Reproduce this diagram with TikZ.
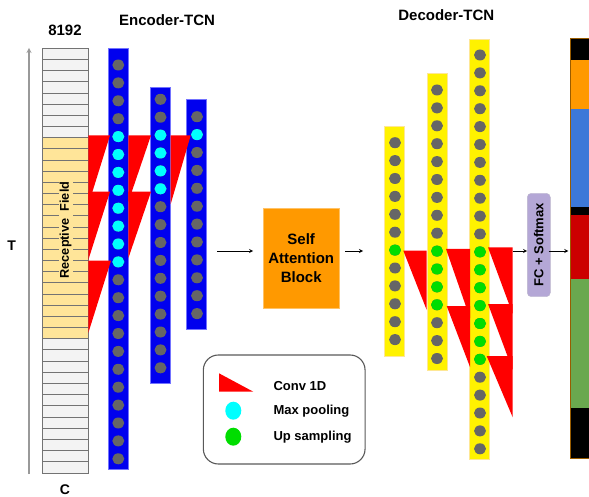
\documentclass[tikz,border=0pt]{standalone}
\usepackage{fontspec}
\setmainfont{Liberation Sans}
\usetikzlibrary{positioning,calc,arrows.meta}
\tikzset{>=stealth}

\definecolor{encblue}{HTML}{0000EE}
\definecolor{dotgrey}{HTML}{666666}
\definecolor{cellgrey}{HTML}{F3F3F3}
\definecolor{rfield}{HTML}{FFE599}
\definecolor{sabor}{HTML}{FF9900}
\definecolor{fcpurple}{HTML}{B4A7D6}
\definecolor{outblue}{HTML}{3C78D8}
\definecolor{outred}{HTML}{CC0000}
\definecolor{outgreen}{HTML}{6AA84F}
\definecolor{upgreen}{HTML}{00DD00}
\definecolor{poolcyan}{HTML}{00FFFF}
\definecolor{convred}{HTML}{FF0000}

\tikzset{
  tcncol/.style={anchor=north,minimum width=20,inner sep=0pt,line width=0.6pt},
  enccol/.style={tcncol,fill=encblue,draw=blue!55},
  deccol/.style={tcncol,fill=yellow,draw=yellow!60!orange!40},
  hdr/.style={font=\bfseries\fontsize{15}{18}\selectfont},
  legtxt/.style={anchor=west,font=\bfseries\fontsize{13}{15}\selectfont},
}
% one column of dots: x, first y, last index, from, to, colour
\newcommand{\dotcol}[6]{%
  \foreach \i in {0,...,#3} {\fill[dotgrey] (#1,#2+17.9*\i) ellipse[x radius=6,y radius=5.5];}
  \foreach \i in {#4,...,#5} {\fill[#6] (#1,#2+17.9*\i) ellipse[x radius=6,y radius=5.5];}
}

\begin{document}
\begin{tikzpicture}[x=1pt,y=-1pt]
\useasboundingbox (0,0) rectangle (589,497);
\coordinate (lvl) at (0,251);
% input
\coordinate (tbot) at (29,474);
\coordinate (ttop) at (29,48);
\draw[->,gray!80,line width=1.2pt] (tbot) -- (ttop);
\node[font=\bfseries\fontsize{14}{16}\selectfont] (tl) at (11.7,245.7) {T};
\node[anchor=north,minimum width=46,minimum height=424.4,inner sep=0pt,fill=cellgrey] (inp) at (65.3,48.3) {};
\fill[rfield] (42.3,137.7) rectangle (88.3,338.7);
\foreach \r in {1,...,37} \draw[gray!90!black,line width=0.8pt] (42.3,48.3+11.17*\r) -- (88.3,48.3+11.17*\r);
\draw[gray!90!black,line width=0.8pt] (inp.north west) rectangle (inp.south east);
\node[rotate=90,fill=rfield,inner sep=1.2pt,font=\bfseries\fontsize{12.7}{14}\selectfont] (rf) at (65.7,230) {Receptive\ \ Field};
\node[hdr] (len) at (65,30) {8192};
\node[font=\bfseries\fontsize{14}{16}\selectfont] (cl) at (65,490) {C};

% encoder
\node[hdr] (enct) at (167,20.5) {Encoder-TCN};
\node[enccol,minimum height=420.7] (enc1) at (118.3,48.3) {};
\node[enccol,minimum height=296] (enc2) at (160.7,87.3) {};
\node[enccol,minimum height=229.7] (enc3) at (196.7,99) {};
\fill[convred] (88.3,135.3) -- (110,135.3) -- (88.3,205) -- cycle;
\fill[convred] (88.3,191.7) -- (110,191.7) -- (88.3,260) -- cycle;
\fill[convred] (88.3,260.7) -- (111,260.7) -- (88.3,333) -- cycle;
\fill[convred] (128.3,135.3) -- (151,135.3) -- (128.3,202) -- cycle;
\fill[convred] (128.3,191.7) -- (151,191.7) -- (128.3,258.3) -- cycle;
\fill[convred] (170.7,135.3) -- (190.7,135.3) -- (170.7,204) -- cycle;
\dotcol{118.3}{65}{22}{4}{11}{poolcyan}
\dotcol{160.5}{99.3}{15}{2}{5}{poolcyan}
\dotcol{197}{116.7}{11}{1}{1}{poolcyan}

% attention
\node[fill=sabor,draw=sabor!60,minimum width=75.7,minimum height=100,align=center,
  font=\bfseries\fontsize{15}{18.7}\selectfont] (sab) at (301.2,258.3) {Self\\Attention\\Block};
\coordinate (a1) at (217,251);
\draw[->,line width=0.8pt,shorten >=10pt] (a1) -- (a1 -| sab.west);

% decoder
\node[hdr] (dect) at (446.3,15) {Decoder-TCN};
\node[deccol,minimum height=230] (dec1) at (394.7,126) {};
\node[deccol,minimum height=296.7] (dec2) at (437,73.3) {};
\node[deccol,minimum height=420.3] (dec3) at (479.7,39) {};
\draw[->,line width=0.8pt,shorten <=6pt,shorten >=21.4pt] (sab.east |- lvl) -- (dec1.west |- lvl);
\fill[convred] (403.3,250.7) -- (426.7,250.7) -- (426.7,310) -- cycle;
\fill[convred] (446,249) -- (470,249) -- (470,318) -- cycle;
\fill[convred] (446.7,306) -- (470,306) -- (470,367) -- cycle;
\fill[convred] (488,247.3) -- (512.7,247.3) -- (512.7,314) -- cycle;
\fill[convred] (488,304) -- (512.7,304) -- (512.7,370) -- cycle;
\fill[convred] (486.7,356) -- (512.7,356) -- (512.7,417.3) -- cycle;
\dotcol{395}{142.7}{11}{6}{6}{upgreen}
\dotcol{437}{90}{15}{9}{12}{upgreen}
\dotcol{480}{55}{22}{11}{17}{upgreen}

% classifier
\node[rotate=90,fill=fcpurple,draw=fcpurple!80!black!60,rounded corners=4,minimum width=103.4,
  minimum height=23,inner sep=0pt,font=\bfseries\fontsize{13}{15}\selectfont] (fc) at (538.8,245) {FC + Softmax};
\coordinate (dtop) at (512.7,251);
\draw[->,line width=0.8pt] (dtop) -- (fc.north |- lvl);
\coordinate (out) at (570,38.3);
\fill[black] (out) rectangle (600,60);
\fill[sabor] (570,60) rectangle (600,109);
\fill[outblue] (570,109) rectangle (600,206.7);
\fill[black] (570,206.7) rectangle (600,215);
\fill[outred] (570,215) rectangle (600,279.3);
\fill[outgreen] (570,279.3) rectangle (600,408.3);
\fill[black] (570,408.3) rectangle (600,458.3);
\draw[sabor!60!black,line width=0.5pt] (out) rectangle (600,458.3);
\draw[->,line width=0.8pt,shorten <=-2pt,shorten >=1.7pt] (fc.south |- lvl) -- (out |- lvl);

% legend
\node[draw=black!65,line width=1.1pt,rounded corners=15,minimum width=161.7,minimum height=109] (leg) at (284.2,409.5) {};
\fill[convred] (219,373.3) -- (219,391.7) -- (253.3,391.7) -- cycle;
\fill[poolcyan] (233.3,410.7) ellipse[x radius=8,y radius=9];
\fill[upgreen] (233.3,436.7) ellipse[x radius=8,y radius=9];
\node[legtxt] (lconv) at (270,386) {Conv 1D};
\node[legtxt] (lmax) at (270,411.5) {Max pooling};
\node[legtxt] (lup) at (270,437) {Up sampling};
\end{tikzpicture}
\end{document}
